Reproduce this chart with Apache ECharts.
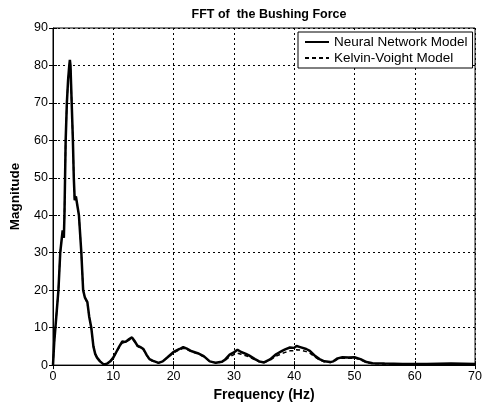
<!DOCTYPE html>
<html><head><meta charset="utf-8">
<script src="https://cdn.jsdelivr.net/npm/echarts@6/dist/echarts.min.js"></script>
<style>html,body{margin:0;padding:0;background:#fff}#c{width:485px;height:407px}</style>
</head><body><div id="c"></div>
<script>
const freq = [0,0.2,0.4,0.6,0.9,1.2,1.4,1.6,1.8,1.9,2.0,2.1,2.3,2.5,2.7,2.8,2.9,3.0,3.1,3.3,3.45,3.6,3.8,3.95,4.1,4.3,4.5,4.7,4.85,5.0,5.3,5.7,6.0,6.35,6.7,7.0,7.3,7.8,8.4,9.0,9.5,10,10.5,11,11.5,12,12.5,13.1,13.5,14,14.5,15,15.5,16,16.5,17.5,18.2,19,20,21,21.6,22.2,23,24,25,26,27,28,28.5,29.3,30,30.6,31.2,32,32.5,33.5,34.2,35,36,37,38,38.5,39.3,40,40.4,41,42,42.6,43.5,44.2,45,46,46.5,47.2,48,49,50,51,52,53,55,58,62,66,70];
const neuralNet = [0,6,10,14,20,30,33,36,34,40,50,60,70,76,80,81.5,80,75,70,60,50,44,45,44.5,42,40,35,30,25,20,18,16.8,13,10,5,3,2,1,0.2,0.4,1,2,3.5,5,6.3,6.2,6.8,7.4,6.5,5.2,4.8,4.3,2.8,1.6,1.2,0.6,1.0,2.1,3.5,4.3,4.8,4.4,3.7,3.2,2.4,1.0,0.6,0.9,1.4,2.8,3.4,4.1,3.5,3.0,2.6,1.6,1.0,0.7,1.5,2.9,3.8,4.2,4.7,4.6,5.1,4.8,4.3,3.8,2.4,1.6,1.0,0.8,1.0,1.8,2.1,2.0,2.1,1.6,0.8,0.5,0.4,0.3,0.3,0.4,0.3];
const kelvinVoight = [0,6,10,14,20,30,33,35,34,40,50,60,70,76,79,80.5,79,75,70,60,50,44,45,44,42,40,35,30,25,20,18,16.5,13,10,5,3,2,1,0.2,0.4,1,2,3.4,4.8,6.0,6.0,6.6,7.1,6.3,5.0,4.6,4.1,2.7,1.5,1.1,0.6,1.0,2.0,3.3,4.1,4.5,4.2,3.5,3.0,2.2,1.0,0.6,0.8,1.2,2.2,2.8,3.2,2.9,2.5,2.2,1.4,0.9,0.7,1.3,2.4,3.1,3.4,3.8,3.8,4.1,4.0,3.6,3.2,2.1,1.4,0.9,0.7,0.9,1.6,1.9,1.8,1.9,1.4,0.7,0.4,0.3,0.3,0.3,0.3,0.3];
const seriesNames = ['Neural Network Model','Kelvin-Voight Model'];
const xTicks = {min:0,max:70,interval:10};
const yTicks = {min:0,max:90,interval:10};

const pairs = (ys) => freq.map((f,i)=>[f,ys[i]]);
const chart = echarts.init(document.getElementById('c'),null,{renderer:'canvas'});
const FF = 'Liberation Sans, Arial, sans-serif';
const lab = {color:'#000',fontFamily:FF,fontSize:12.5};
const split = {show:true,lineStyle:{color:'#000',type:[2,3],width:1}};
chart.setOption({
  animation:false,
  backgroundColor:'#fff',
  title:{text:'FFT of  the Bushing Force',left:264,textAlign:'center',top:3,
    textStyle:{fontFamily:FF,fontWeight:'bold',fontSize:12.5,color:'#000'}},
  grid:{left:52,right:7,top:28,bottom:41,show:true,borderColor:'#000',borderWidth:1,backgroundColor:'#fff'},
  legend:{orient:'vertical',left:298,top:32,backgroundColor:'#fff',borderColor:'#000',borderWidth:1,
    padding:[3,5,3,6],itemGap:2,itemWidth:24,itemHeight:10,
    itemStyle:{opacity:0},
    textStyle:{fontFamily:FF,fontSize:13.5,color:'#000'},
    data:seriesNames},
  xAxis:[{type:'value',min:xTicks.min,max:xTicks.max,interval:xTicks.interval,
    name:'Frequency (Hz)',nameLocation:'middle',nameGap:22,
    nameTextStyle:{fontFamily:FF,fontWeight:'bold',fontSize:14,color:'#000'},
    axisLine:{lineStyle:{color:'#000'}},axisTick:{inside:true,length:4,lineStyle:{color:'#000'}},
    axisLabel:Object.assign({margin:5},lab),splitLine:split},
    {type:'value',position:'top',min:xTicks.min,max:xTicks.max,interval:xTicks.interval,
    axisLine:{show:false},axisTick:{inside:true,length:4,lineStyle:{color:'#000'}},axisLabel:{show:false},splitLine:{show:false}}],
  yAxis:[{type:'value',min:yTicks.min,max:yTicks.max,interval:yTicks.interval,
    name:'Magnitude',nameLocation:'middle',nameGap:31,
    nameTextStyle:{fontFamily:FF,fontWeight:'bold',fontSize:13.5,color:'#000'},
    axisLine:{show:true,lineStyle:{color:'#000'}},axisTick:{show:true,inside:true,length:4,lineStyle:{color:'#000'}},
    axisLabel:Object.assign({margin:5},lab),splitLine:split},
    {type:'value',position:'right',min:yTicks.min,max:yTicks.max,interval:yTicks.interval,
    axisLine:{show:false},axisTick:{show:true,inside:true,length:4,lineStyle:{color:'#000'}},axisLabel:{show:false},splitLine:{show:false}}],
  series:[
    {name:seriesNames[1],type:'line',data:pairs(kelvinVoight),showSymbol:false,symbol:'none',
      lineStyle:{color:'#000',width:1.5,type:[4,3]},itemStyle:{color:'#000'},z:3},
    {name:seriesNames[0],type:'line',data:pairs(neuralNet),showSymbol:false,symbol:'none',
      lineStyle:{color:'#000',width:2.5},itemStyle:{color:'#000'},z:4}
  ]
});
</script></body></html>
